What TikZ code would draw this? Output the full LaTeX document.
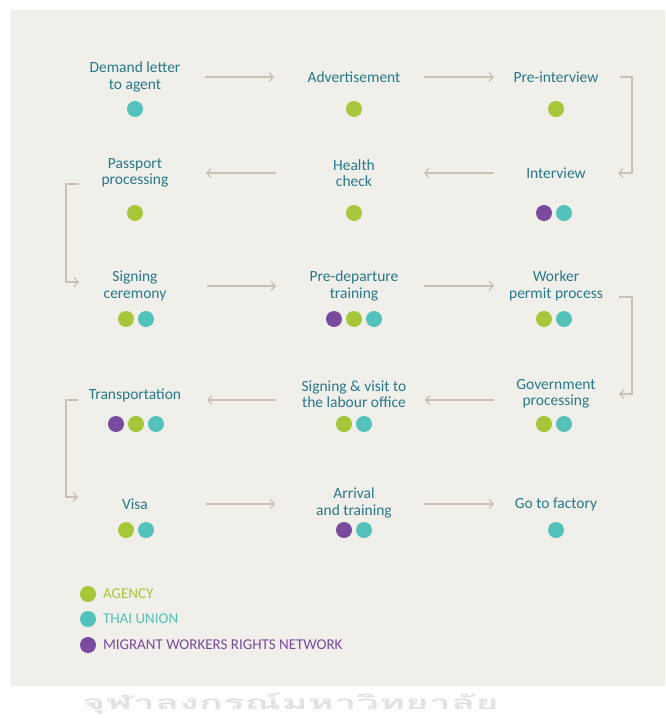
\documentclass[tikz,border=0pt]{standalone}
\usepackage{fontspec}
\setmainfont{Carlito}
\newfontfamily\thaifont[Script=Thai]{Loma}
\usetikzlibrary{arrows.meta,calc}
\definecolor{bgcol}{HTML}{F1EFEA}
\definecolor{flowcol}{HTML}{C9C1B5}
\definecolor{stepcol}{HTML}{26788B}
\definecolor{agency}{HTML}{A5C739}
\definecolor{thaiunion}{HTML}{52C2BA}
\definecolor{mwrn}{HTML}{7A4A9E}
\definecolor{wmarkcol}{HTML}{E2E2E2}
\begin{document}
\begin{tikzpicture}[x=1pt,y=-1pt,inner sep=0pt,outer sep=0pt,
stepnode/.style={align=center,text=stepcol,font=\fontsize{15.5}{16.5}\selectfont},
blob/.style={circle,minimum size=16pt},
flow/.style={draw=flowcol,line width=1.3pt,-{Straight Barb[length=4pt,width=9pt]}},
keytext/.style={anchor=west,font=\fontsize{15}{16}\selectfont}]
\useasboundingbox (0,0) rectangle (665,718);

% watermark below the panel
\draw (82,709) node[anchor=base west,text=wmarkcol,font=\thaifont\bfseries\fontsize{19}{20}\selectfont] (wmark) {\scalebox{2.1}[1]{จุฬาลงกรณ์มหาวิทยาลัย}};
\fill[bgcol] (11,10) rectangle (665,686);

% row 1
\draw (135,77) node[stepnode] (demand) {Demand letter\\to agent};
\draw (354,77) node[stepnode] (advert) {Advertisement};
\draw (556,77) node[stepnode] (preint) {Pre-interview};
\draw (135,109) node[blob,fill=thaiunion] (demand-t) {};
\draw (354,109) node[blob,fill=agency] (advert-a) {};
\draw (556,109) node[blob,fill=agency] (preint-a) {};

% row 2
\draw (135,173) node[stepnode] (passport) {Passport\\processing};
\draw (354,173) node[stepnode] (health) {Health\\check};
\draw (556,173) node[stepnode] (interview) {Interview};
\draw (135,213) node[blob,fill=agency] (passport-a) {};
\draw (354,213) node[blob,fill=agency] (health-a) {};
\draw (544,213) node[blob,fill=mwrn] (interview-m) {};
\draw (564,213) node[blob,fill=thaiunion] (interview-t) {};

% row 3
\draw (135,286) node[stepnode] (signing) {Signing\\ceremony};
\draw (354,286) node[stepnode] (predep) {Pre-departure\\training};
\draw (556,286) node[stepnode] (permit) {Worker\\permit process};
\draw (126,319) node[blob,fill=agency] (signing-a) {};
\draw (146,319) node[blob,fill=thaiunion] (signing-t) {};
\draw (334,319) node[blob,fill=mwrn] (predep-m) {};
\draw (354,319) node[blob,fill=agency] (predep-a) {};
\draw (374,319) node[blob,fill=thaiunion] (predep-t) {};
\draw (544,319) node[blob,fill=agency] (permit-a) {};
\draw (564,319) node[blob,fill=thaiunion] (permit-t) {};

% row 4
\draw (135,395) node[stepnode] (transport) {Transportation};
\draw (354,394) node[stepnode] (labour) {Signing \& visit to\\the labour office};
\draw (556,394) node[stepnode] (gov) {Government\\processing};
\draw (116,424) node[blob,fill=mwrn] (transport-m) {};
\draw (136,424) node[blob,fill=agency] (transport-a) {};
\draw (156,424) node[blob,fill=thaiunion] (transport-t) {};
\draw (344,424) node[blob,fill=agency] (labour-a) {};
\draw (364,424) node[blob,fill=thaiunion] (labour-t) {};
\draw (544,424) node[blob,fill=agency] (gov-a) {};
\draw (564,424) node[blob,fill=thaiunion] (gov-t) {};

% row 5
\draw (135,504) node[stepnode] (visa) {Visa};
\draw (354,503) node[stepnode] (arrival) {Arrival\\and training};
\draw (556,504) node[stepnode] (factory) {Go to factory};
\draw (126,530) node[blob,fill=agency] (visa-a) {};
\draw (146,530) node[blob,fill=thaiunion] (visa-t) {};
\draw (344,530) node[blob,fill=mwrn] (arrival-m) {};
\draw (364,530) node[blob,fill=thaiunion] (arrival-t) {};
\draw (556,530) node[blob,fill=thaiunion] (factory-t) {};

% connectors
\draw[flow] (demand) ++(70,0) -- ++(69,0);
\draw[flow] (advert) ++(70,0) -- ++(70,0);
\draw[flow] (preint) ++(64,0) -- ++(12,0) |- ($(interview)+(62,0)$);
\draw[flow] (interview) ++(-62,0) -- ++(-70,0);
\draw[flow] (health) ++(-78,0) -- ++(-70,0);
\draw[flow] (passport) ++(-56,11) -- ++(-13,0) |- ($(signing)+(-56,-4)$);
\draw[flow] (signing) ++(72,0) -- ++(69,0);
\draw[flow] (predep) ++(70,0) -- ++(70,0);
\draw[flow] (permit) ++(63,11) -- ++(13,0) |- ($(gov)+(63,0)$);
\draw[flow] (gov) ++(-62,6) -- ++(-69,0);
\draw[flow] (labour) ++(-78,6) -- ++(-69,0);
\draw[flow] (transport) ++(-57,5) -- ++(-12,0) |- ($(visa)+(-57,-7)$);
\draw[flow] (visa) ++(71,0) -- ++(69,0);
\draw[flow] (arrival) ++(70,1) -- ++(70,0);

% legend
\draw (88,594) node[blob,fill=agency] (key-a) {};
\draw (88,619) node[blob,fill=thaiunion] (key-t) {};
\draw (88,645) node[blob,fill=mwrn] (key-m) {};
\draw (key-a.east) ++(7,0) node[keytext,text=agency] {AGENCY};
\draw (key-t.east) ++(7,0) node[keytext,text=thaiunion] {THAI UNION};
\draw (key-m.east) ++(7,0) node[keytext,text=mwrn] {MIGRANT WORKERS RIGHTS NETWORK};
\end{tikzpicture}
\end{document}
